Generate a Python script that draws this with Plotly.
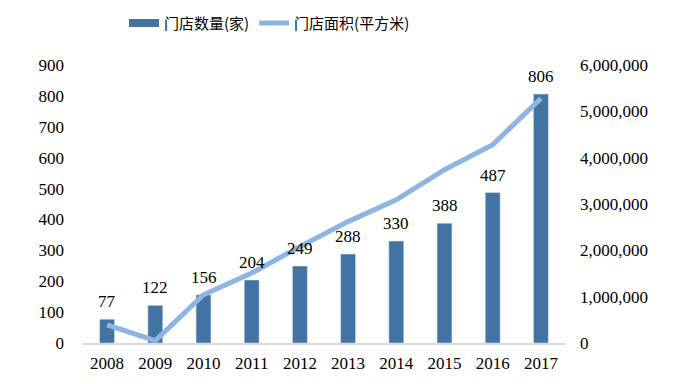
import plotly.graph_objects as go

years = ["2008", "2009", "2010", "2011", "2012", "2013", "2014", "2015", "2016", "2017"]
store_count = [77, 122, 156, 204, 249, 288, 330, 388, 487, 806]
store_area = [390000, 50000, 1040000, 1510000, 2080000, 2620000, 3090000, 3740000, 4280000, 5280000]

bar_color = "#4373A3"
line_color = "#8DB4E2"
serif = "Liberation Serif"
cjk = "Noto Sans CJK SC"

fig = go.Figure()
fig.add_trace(go.Bar(x=years, y=store_count, marker_color=bar_color, showlegend=False,
                     name="门店数量(家)", yaxis="y"))
fig.add_trace(go.Scatter(x=years, y=store_area, mode="lines", line=dict(color=line_color, width=5),
                         showlegend=False, name="门店面积(平方米)", yaxis="y2"))
# legend entries
fig.add_trace(go.Scatter(x=[years[0]], y=[None], mode="lines", line=dict(color=bar_color, width=8),
                         name="门店数量(家)", yaxis="y"))
fig.add_trace(go.Scatter(x=[years[0]], y=[None], mode="lines", line=dict(color=line_color, width=5),
                         name="门店面积(平方米)", yaxis="y"))

# data labels (x given as category index)
for i, v in enumerate(store_count):
    fig.add_annotation(x=i, y=v, text=str(v), showarrow=False, yanchor="bottom", yshift=6,
                       xref="x", yref="y",
                       font=dict(family=serif, size=17, color="black"))

# page body has an 8px margin, so the figure is sized 8px smaller each way
fig.update_layout(
    width=687, height=376,
    margin=dict(l=75, r=130, t=57, b=41, autoexpand=False),
    paper_bgcolor="white", plot_bgcolor="white",
    font=dict(family=serif, size=17, color="black"),
    bargap=0.69,
    showlegend=True,
    legend=dict(orientation="h", x=0.085, xanchor="left", y=1.15, yanchor="middle",
                font=dict(family=cjk, size=15, color="black"), itemwidth=30,
                bgcolor="rgba(0,0,0,0)"),
    xaxis=dict(type="category", categoryorder="array", categoryarray=years,
               range=[-0.5, len(years) - 0.5], automargin=False,
               showgrid=False, showline=True, linecolor="#D9D9D9", linewidth=2,
               ticks="", tickfont=dict(family=serif, size=17, color="black"), ticklabelstandoff=4),
    yaxis=dict(range=[0, 900], dtick=100, showgrid=False, zeroline=False, showline=False, ticks="",
               automargin=False,
               tickfont=dict(family=serif, size=17, color="black"), ticklabelstandoff=18),
    yaxis2=dict(range=[0, 6000000], dtick=1000000, overlaying="y", side="right", showgrid=False,
                zeroline=False, showline=False, ticks="", tickformat=",d", automargin=False,
                tickfont=dict(family=serif, size=17, color="black"), ticklabelstandoff=14),
)

fig.write_html("out.html")
